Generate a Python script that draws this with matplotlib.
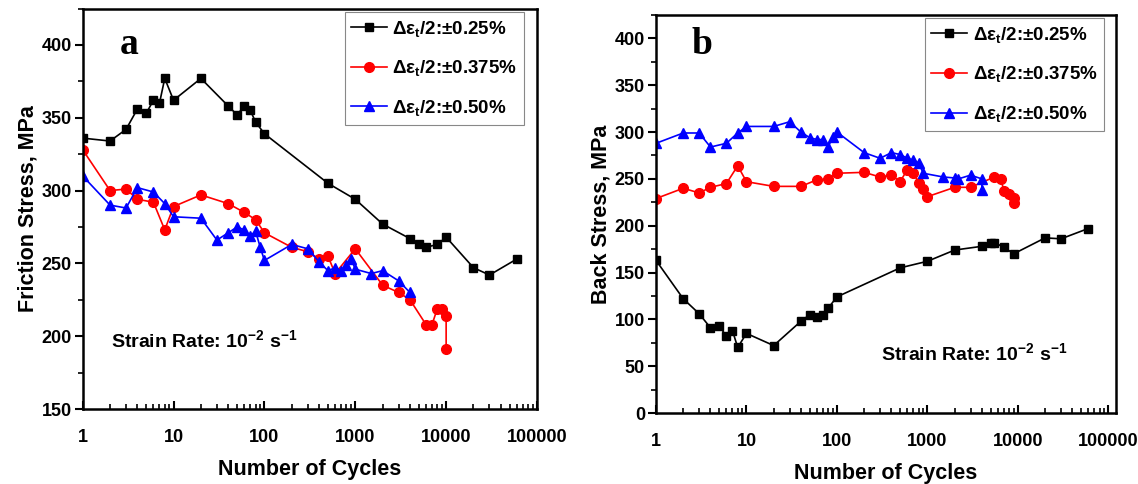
import matplotlib
matplotlib.use("Agg")
import matplotlib.pyplot as plt
from matplotlib.ticker import FixedLocator, FuncFormatter, LogLocator, MultipleLocator, NullFormatter

plt.rcParams['font.family'] = ['Liberation Sans', 'DejaVu Sans']
plt.rcParams['font.weight'] = 'bold'
plt.rcParams['mathtext.fontset'] = 'custom'
plt.rcParams['mathtext.rm'] = 'Liberation Sans:bold'
plt.rcParams['mathtext.it'] = 'Liberation Sans:bold'
plt.rcParams['mathtext.bf'] = 'Liberation Sans:bold'
plt.rcParams['mathtext.default'] = 'rm'

# ---------------- data ----------------
labels = [r'Δε$_{t}$/2:±0.25%', r'Δε$_{t}$/2:±0.375%', r'Δε$_{t}$/2:±0.50%']
xticks = [1, 10, 100, 1000, 10000, 100000]

# panel a: friction stress
fa_black_x = [1, 2, 3, 4, 5, 6, 7, 8, 10, 20, 40, 50, 60, 70, 80, 100, 500, 1000, 2000, 4000, 5000, 6000, 8000, 10000, 20000, 30000, 60000]
fa_black_y = [336, 334, 342, 356, 353, 362, 360, 377, 362, 377, 358, 352, 358, 355, 347, 339, 305, 294, 277, 267, 263, 261, 263, 268, 247, 242, 253]
fa_red_x = [1, 2, 3, 4, 6, 8, 10, 20, 40, 60, 80, 100, 200, 300, 400, 500, 600, 1000, 2000, 3000, 4000, 6000, 7000, 8000, 9000, 10000, 10000]
fa_red_y = [328, 300, 301, 294, 292, 273, 289, 297, 291, 285, 280, 271, 261, 258, 253, 255, 243, 260, 235, 230, 225, 208, 208, 219, 219, 214, 191]
fa_blue_x = [1, 2, 3, 4, 6, 8, 10, 20, 30, 40, 50, 60, 70, 80, 90, 100, 200, 300, 400, 500, 600, 700, 800, 900, 1000, 1500, 2000, 3000, 4000]
fa_blue_y = [310, 290, 288, 302, 299, 291, 282, 281, 266, 271, 275, 273, 269, 272, 261, 252, 263, 260, 251, 245, 247, 245, 249, 253, 246, 243, 245, 238, 230]

# panel b: back stress
fb_black_x = [1, 2, 3, 4, 5, 6, 7, 8, 10, 20, 40, 50, 60, 70, 80, 100, 500, 1000, 2000, 4000, 5000, 5500, 7000, 9000, 20000, 30000, 60000]
fb_black_y = [163, 122, 106, 91, 93, 82, 88, 70, 85, 72, 98, 105, 103, 105, 112, 124, 155, 162, 174, 178, 181, 182, 177, 170, 187, 186, 197]
fb_red_x = [1, 2, 3, 4, 6, 8, 10, 20, 40, 60, 80, 100, 200, 300, 400, 500, 600, 700, 800, 900, 1000, 2000, 3000, 5500, 6500, 7000, 8000, 9000, 9000]
fb_red_y = [229, 240, 235, 241, 245, 264, 247, 242, 242, 249, 250, 256, 257, 252, 254, 247, 260, 256, 246, 239, 231, 241, 241, 252, 250, 237, 234, 230, 224]
fb_blue_x = [1, 2, 3, 4, 6, 8, 10, 20, 30, 40, 50, 60, 70, 80, 90, 100, 200, 300, 400, 500, 600, 700, 800, 900, 1500, 2000, 2200, 3000, 4000, 4000]
fb_blue_y = [288, 299, 299, 284, 288, 299, 306, 306, 311, 300, 294, 292, 292, 284, 295, 300, 278, 272, 278, 276, 272, 270, 267, 256, 252, 251, 250, 254, 250, 238]

W, H = 1138, 484
fig = plt.figure(figsize=(W / 100, H / 100), dpi=100)


def px_axes(l, t, r, b):
    return fig.add_axes([l / W, 1 - b / H, (r - l) / W, (b - t) / H])


axa = px_axes(82.7, 8.5, 537, 409)
axb = px_axes(656, 15, 1115.5, 413)

styles = [dict(color='black', marker='s', ms=6.3),
          dict(color='#ff0000', marker='o', ms=7),
          dict(color='#0000ff', marker='^', ms=7.5)]

def draw(ax, series, ylim, ymajor, ylabel, xmax, leg_anchor):
    for (xs, ys), st, lab in zip(series, styles, labels):
        ax.plot(xs, ys, lw=1.2, label=lab, **st)
    ax.set_xscale('log')
    ax.set_xlim(1, xmax)
    ax.set_ylim(*ylim)
    ax.xaxis.set_major_locator(FixedLocator(xticks))
    ax.xaxis.set_major_formatter(FuncFormatter(lambda v, p: f"{int(round(v))}"))
    ax.xaxis.set_minor_locator(LogLocator(base=10, subs=range(2, 10), numticks=20))
    ax.xaxis.set_minor_formatter(NullFormatter())
    ax.yaxis.set_major_locator(MultipleLocator(ymajor))
    ax.yaxis.set_minor_locator(MultipleLocator(ymajor / 2))
    ax.tick_params(axis='x', which='major', direction='in', length=6, width=1.5, pad=14.5, labelsize=13)
    ax.tick_params(axis='x', which='minor', direction='in', length=3.5, width=1.2)
    ax.tick_params(axis='y', which='major', direction='out', length=6, width=1.5, pad=2, labelsize=13)
    ax.tick_params(axis='y', which='minor', direction='out', length=3.5, width=1.2)
    for sp in ax.spines.values():
        sp.set_linewidth(1.8)
    ax.set_xlabel('Number of Cycles', fontsize=15.5, fontweight='bold', labelpad=9)
    ax.set_ylabel(ylabel, fontsize=15.5, fontweight='bold', labelpad=2)
    leg = ax.legend(loc='upper right', bbox_to_anchor=leg_anchor, borderaxespad=0,
                    fancybox=False, edgecolor='#888888', framealpha=1,
                    prop={'size': 13.5, 'weight': 'bold'}, handlelength=1.9,
                    handletextpad=0.3, labelspacing=1.05, borderpad=0.35)
    leg.get_frame().set_linewidth(0.8)

draw(axa, [(fa_black_x, fa_black_y), (fa_red_x, fa_red_y), (fa_blue_x, fa_blue_y)],
     (150, 425), 50, 'Friction Stress, MPa', 1e5, (0.971, 0.991))
draw(axb, [(fb_black_x, fb_black_y), (fb_red_x, fb_red_y), (fb_blue_x, fb_blue_y)],
     (0, 425), 50, 'Back Stress, MPa', 1.2e5, (0.975, 0.992))

fig.text(129 / W, 1 - 45 / H, 'a', fontsize=27, fontweight='bold', family='Liberation Serif', ha='center', va='center')
fig.text(702 / W, 1 - 45 / H, 'b', fontsize=27, fontweight='bold', family='Liberation Serif', ha='center', va='center')

fig.text(111 / W, 1 - 340 / H, r'Strain Rate: 10$^{-2}$ s$^{-1}$', fontsize=14, fontweight='bold', ha='left', va='center')
fig.text(881 / W, 1 - 353 / H, r'Strain Rate: 10$^{-2}$ s$^{-1}$', fontsize=14, fontweight='bold', ha='left', va='center')

fig.savefig('out.png', dpi=100)
